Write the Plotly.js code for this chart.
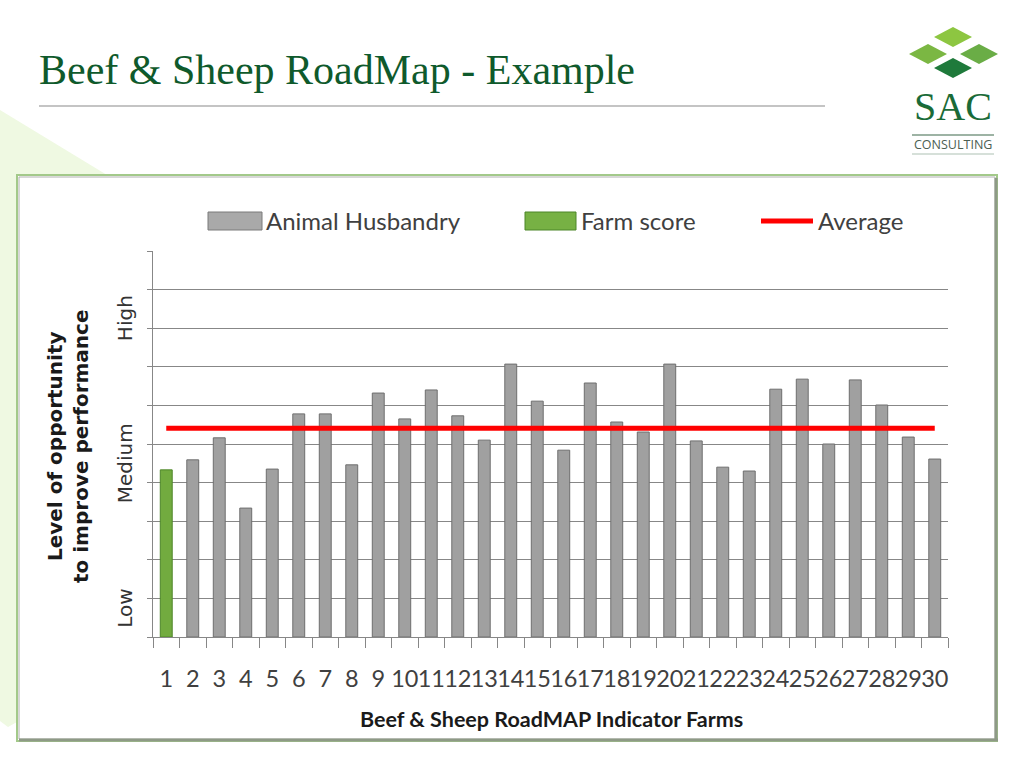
<!DOCTYPE html>
<html>
<head>
<meta charset="utf-8">
<script src="https://cdn.plot.ly/plotly-3.0.1.min.js"></script>
<style>
html,body{margin:0;padding:0;background:#fff;}
#chart{width:1024px;height:771px;}
</style>
</head>
<body>
<div id="chart"></div>
<script>
// ---- data ----
const farms = ['1','2','3','4','5','6','7','8','9','10','11','12','13','14','15','16','17','18','19','20','21','22','23','24','25','26','27','28','29','30'];
const farmScoreFarm = ['1'];
const farmScoreValue = [4.33];
const husbandryFarms = ['2','3','4','5','6','7','8','9','10','11','12','13','14','15','16','17','18','19','20','21','22','23','24','25','26','27','28','29','30'];
const husbandryValues = [4.59,5.16,3.34,4.35,5.78,5.78,4.46,6.32,5.65,6.40,5.73,5.10,7.07,6.11,4.84,6.58,5.57,5.31,7.07,5.08,4.40,4.30,6.42,6.68,5.00,6.66,6.01,5.18,4.61];
const averageValue = 5.41;
const levelLabels = ['Low','Medium','High'];
const levelPositions = [0.73, 4.5, 8.26];
const seriesNames = ['Animal Husbandry','Farm score','Average'];

// ---- layout helpers (pixel -> paper) ----
const L=153, R=948, T=251, B=637;
const px = x => (x-L)/(R-L);
const py = y => (B-y)/(B-T);

const textGrey = '#404040';
const gridGrey = '#878787';

const traces = [
  {type:'bar', name:seriesNames[1], x:farmScoreFarm, y:farmScoreValue,
   marker:{color:'#72ab3f', line:{color:'#4d8629', width:1}}, hoverinfo:'x+y'},
  {type:'bar', name:seriesNames[0], x:husbandryFarms, y:husbandryValues,
   marker:{color:'#a0a0a0', line:{color:'#6e6e6e', width:1}}, hoverinfo:'x+y'},
  {type:'scatter', mode:'lines', name:seriesNames[2],
   x:[farms[0], farms[farms.length-1]], y:[averageValue, averageValue],
   line:{color:'#ff0000', width:5}, hoverinfo:'y'}
];

const shapes = [
  // pale green slide decoration
  {type:'path', xref:'paper', yref:'paper', layer:'below',
   path:`M ${px(0)},${py(110)} L ${px(107)},${py(175)} L ${px(17)},${py(175)} L ${px(17)},${py(722)} L ${px(8)},${py(727)} L ${px(0)},${py(721)} Z`,
   fillcolor:'#eff9e2', line:{width:0}},
  // chart frame
  {type:'rect', xref:'paper', yref:'paper', layer:'below',
   x0:px(17), x1:px(997), y0:py(741), y1:py(175),
   fillcolor:'#ffffff', line:{color:'#a3c98a', width:2}},
  {type:'rect', xref:'paper', yref:'paper', layer:'below',
   x0:px(19), x1:px(995), y0:py(739), y1:py(177),
   fillcolor:'rgba(0,0,0,0)', line:{color:'#b0b0b0', width:1}},
  {type:'line', xref:'paper', yref:'paper', x0:px(19), x1:px(998), y0:py(740), y1:py(740), line:{color:'#8e9a86', width:3}},
  {type:'line', xref:'paper', yref:'paper', x0:px(996), x1:px(996), y0:py(178), y1:py(741), line:{color:'#8e9a86', width:3}},
  // title separator
  {type:'line', xref:'paper', yref:'paper', x0:px(39), x1:px(825), y0:py(106), y1:py(106), line:{color:'#c4c4c4', width:2}},
  // logo diamonds
  {type:'path', xref:'paper', yref:'paper', path:`M ${px(953)},${py(27)} L ${px(972)},${py(37)} L ${px(953)},${py(47)} L ${px(934)},${py(37)} Z`, fillcolor:'#8dc641', line:{width:0}},
  {type:'path', xref:'paper', yref:'paper', path:`M ${px(928)},${py(44)} L ${px(947)},${py(54)} L ${px(928)},${py(64)} L ${px(909)},${py(54)} Z`, fillcolor:'#7bb743', line:{width:0}},
  {type:'path', xref:'paper', yref:'paper', path:`M ${px(979)},${py(44)} L ${px(998)},${py(54)} L ${px(979)},${py(64)} L ${px(960)},${py(54)} Z`, fillcolor:'#6aad46', line:{width:0}},
  {type:'path', xref:'paper', yref:'paper', path:`M ${px(953)},${py(58)} L ${px(972)},${py(68)} L ${px(953)},${py(78)} L ${px(934)},${py(68)} Z`, fillcolor:'#1f7a3b', line:{width:0}},
  {type:'line', xref:'paper', yref:'paper', x0:px(912), x1:px(994), y0:py(135), y1:py(135), line:{color:'#7c9a86', width:1.5}},
  {type:'line', xref:'paper', yref:'paper', x0:px(912), x1:px(994), y0:py(154), y1:py(154), line:{color:'#c9d6cc', width:1.5}},
  // legend symbols
  {type:'rect', xref:'paper', yref:'paper', x0:px(208), x1:px(262), y0:py(230), y1:py(212), fillcolor:'#a9a9a9', line:{color:'#7a7a7a', width:1}},
  {type:'rect', xref:'paper', yref:'paper', x0:px(525), x1:px(576), y0:py(230), y1:py(212), fillcolor:'#77b144', line:{color:'#4d8629', width:1}},
  {type:'line', xref:'paper', yref:'paper', x0:px(761), x1:px(813), y0:py(221), y1:py(221), line:{color:'#ff0000', width:5}}
];

const ann = (text, x, y, opts) => Object.assign({text, x:px(x), y:py(y), xref:'paper', yref:'paper', showarrow:false}, opts);

const annotations = [
  ann('Beef &amp; Sheep RoadMap - Example', 37, 70, {xanchor:'left', yanchor:'middle', font:{family:'Liberation Serif, serif', size:42, color:'#0f5a2c'}}),
  ann('SAC', 953, 106, {xanchor:'center', yanchor:'middle', font:{family:'Liberation Serif, serif', size:40, color:'#1a6b38'}}),
  ann('CONSULTING', 953, 145, {xanchor:'center', yanchor:'middle', font:{family:'Open Sans, sans-serif', size:12.5, color:'#4b5e52'}}),
  ann(seriesNames[0], 264, 221, {xanchor:'left', yanchor:'middle', font:{family:'Lato, sans-serif', size:24, color:textGrey}}),
  ann(seriesNames[1], 579, 221, {xanchor:'left', yanchor:'middle', font:{family:'Lato, sans-serif', size:24, color:textGrey}}),
  ann(seriesNames[2], 816, 221, {xanchor:'left', yanchor:'middle', font:{family:'Lato, sans-serif', size:24, color:textGrey}}),
  ann('<b>Level of opportunity<br>to improve performance</b>', 68, 446, {xanchor:'center', yanchor:'middle', textangle:-90, font:{family:'DejaVu Sans, sans-serif', size:20, color:'#1a1a1a'}}),
  ann('<b>Beef &amp; Sheep RoadMAP Indicator Farms</b>', 551, 719, {xanchor:'center', yanchor:'middle', font:{family:'Lato, sans-serif', size:21.5, color:'#1a1a1a'}})
];
levelLabels.forEach((t,i) => {
  annotations.push({text:t, x:px(125), xref:'paper', y:levelPositions[i], yref:'y', showarrow:false,
    xanchor:'center', yanchor:'middle', textangle:-90, font:{family:'DejaVu Sans, sans-serif', size:20, color:'#333333'}});
});

const layout = {
  width:1024, height:771,
  margin:{l:L, r:1024-R, t:T, b:771-B, pad:0},
  paper_bgcolor:'#ffffff', plot_bgcolor:'rgba(0,0,0,0)',
  showlegend:false,
  barmode:'overlay', bargap:0.55,
  xaxis:{type:'category', categoryorder:'array', categoryarray:farms,
    tickmode:'array', tickvals:farms, ticktext:farms,
    tickson:'boundaries', ticks:'outside', ticklen:10, tickcolor:gridGrey, tickwidth:1,
    showline:true, linecolor:gridGrey, linewidth:1, showgrid:false, zeroline:false,
    tickfont:{family:'Lato, sans-serif', size:23.5, color:textGrey}, ticklabelstandoff:21, tickangle:0, fixedrange:true},
  yaxis:{range:[0,10], dtick:1, tick0:0, showticklabels:false,
    ticks:'outside', ticklen:5, tickcolor:gridGrey,
    showgrid:true, gridcolor:gridGrey, gridwidth:1,
    showline:true, linecolor:gridGrey, linewidth:1, zeroline:false, fixedrange:true},
  shapes, annotations
};

Plotly.newPlot('chart', traces, layout, {displayModeBar:false, staticPlot:true});
</script>
</body>
</html>
